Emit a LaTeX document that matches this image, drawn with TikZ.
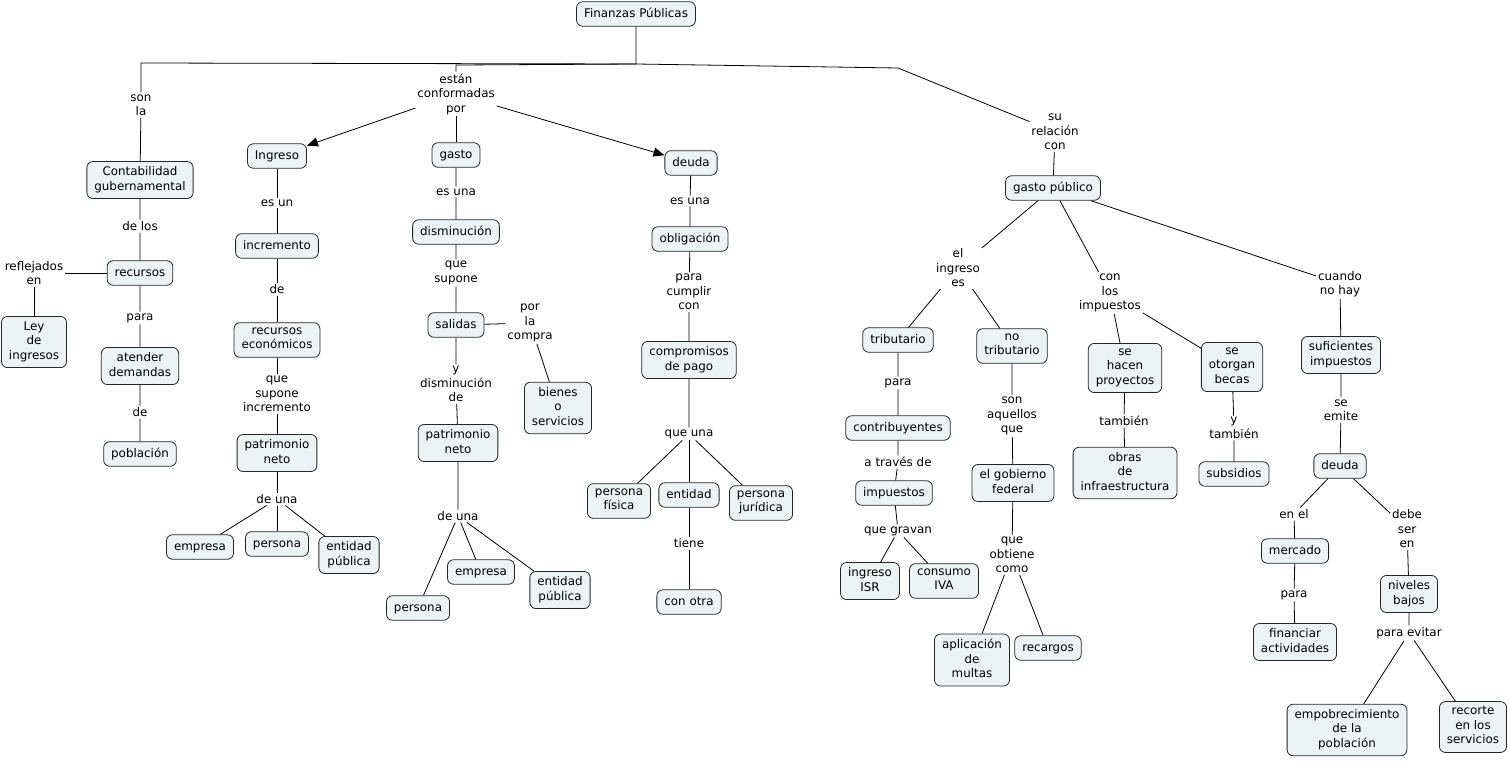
\documentclass[tikz,border=0pt]{standalone}
\usepackage{fontspec}
\setmainfont{DejaVu Sans}
\usetikzlibrary{arrows.meta}
\definecolor{cmapfill}{RGB}{237,243,245}
\newcommand\cstrut{\rule[-3.5pt]{0pt}{14.5pt}}

\begin{document}
\begin{tikzpicture}[x=1pt,y=-1pt,line width=0.8pt,
  font=\fontsize{11.9}{14.5}\selectfont,
  concept/.style={draw=black!85,fill=cmapfill,rounded corners=6pt,align=center,
    inner xsep=7.5pt,inner ysep=5pt,execute at begin node=\cstrut,execute at end node=\cstrut},
  phrase/.style={align=center,inner sep=1.5pt},
  tip/.style={-{Triangle[length=11pt,width=9pt]}}]
\useasboundingbox (0,0) rectangle (1509,761);
\node[concept] (fp) at (636,14) {Finanzas Públicas};
\node[concept] (cg) at (140,180) {Contabilidad\\gubernamental};
\node[concept] (rec) at (140,273) {recursos};
\node[concept] (ley) at (34,342) {Ley\\de\\ingresos};
\node[concept] (atd) at (140,366) {atender\\demandas};
\node[concept] (pob) at (140,454) {población};
\node[concept] (ing) at (277,156) {Ingreso};
\node[concept] (inc) at (277,246) {incremento};
\node[concept] (receco) at (277,340) {recursos\\económicos};
\node[concept] (pnA) at (277,453) {patrimonio\\neto};
\node[concept] (empA) at (200,547) {empresa};
\node[concept] (perA) at (277,544) {persona};
\node[concept] (entA) at (349,555) {entidad\\pública};
\node[concept] (gas) at (456,155) {gasto};
\node[concept] (dis) at (456,232) {disminución};
\node[concept] (sal) at (456,325) {salidas};
\node[concept] (bos) at (558,408) {bienes\\o\\servicios};
\node[concept] (pnB) at (458,443) {patrimonio\\neto};
\node[concept] (perB) at (418,608) {persona};
\node[concept] (empB) at (481,572) {empresa};
\node[concept] (entB) at (560,590) {entidad\\pública};
\node[concept] (deu) at (691,163) {deuda};
\node[concept] (obl) at (690,239) {obligación};
\node[concept] (cp) at (689,360) {compromisos\\de pago};
\node[concept] (pf) at (619,501) {persona\\física};
\node[concept] (ent) at (689,495) {entidad};
\node[concept] (pj) at (761,503) {persona\\jurídica};
\node[concept] (co) at (689,602) {con otra};
\node[concept] (gp) at (1053,188) {gasto público};
\node[concept] (trib) at (898,340) {tributario};
\node[concept] (ntrib) at (1012,346) {no\\tributario};
\node[concept] (contr) at (898,428) {contribuyentes};
\node[concept] (imp) at (894,493) {impuestos};
\node[concept] (isr) at (870,581) {ingreso\\ISR};
\node[concept] (iva) at (944,581) {consumo\\IVA};
\node[concept] (gf) at (1013,483) {el gobierno\\federal};
\node[concept] (mul) at (972,660) {aplicación\\de\\multas};
\node[concept] (rcg) at (1048,648) {recargos};
\node[concept] (shp) at (1125,368) {se\\hacen\\proyectos};
\node[concept] (sob) at (1232,367) {se\\otorgan\\becas};
\node[concept] (obr) at (1125,473) {obras\\de\\infraestructura};
\node[concept] (sub) at (1234,474) {subsidios};
\node[concept] (suf) at (1341,355) {suficientes\\impuestos};
\node[concept] (deuB) at (1340,466) {deuda};
\node[concept] (mer) at (1295,551) {mercado};
\node[concept] (fin) at (1295,642) {financiar\\actividades};
\node[concept] (niv) at (1409,594) {niveles\\bajos};
\node[concept] (emb) at (1347,730) {empobrecimiento\\de la\\población};
\node[concept] (rs) at (1473,727) {recorte\\en los\\servicios};

\node[phrase] (lSon) at (141,105) {son\\la};
\node[phrase] (lEcp) at (456,94) {están\\conformadas\\por};
\node[phrase] (lSrc) at (1055,132) {su\\relación\\con};
\node[phrase] (lDelos) at (140,226) {de los};
\node[phrase] (lRefl) at (34,273) {reflejados\\en};
\node[phrase] (lParaA) at (140,318) {para};
\node[phrase] (lDeA) at (140,412) {de};
\node[phrase] (lEsun) at (277,203) {es un};
\node[phrase] (lDeB) at (277,289) {de};
\node[phrase] (lQsi) at (277,394) {que\\supone\\incremento};
\node[phrase] (lDeunaA) at (277,499) {de una};
\node[phrase] (lEsunaA) at (456,192) {es una};
\node[phrase] (lQs) at (456,273) {que\\supone};
\node[phrase] (lPlc) at (530,323) {por\\la\\compra};
\node[phrase] (lYd) at (456,384) {y\\disminución\\de};
\node[phrase] (lDeunaB) at (458,516) {de una};
\node[phrase] (lEsunaB) at (690,201) {es una};
\node[phrase] (lPcc) at (689,292) {para\\cumplir\\con};
\node[phrase] (lQu) at (689,434) {que una};
\node[phrase] (lTiene) at (689,543) {tiene};
\node[phrase] (lEie) at (958,268) {el\\ingreso\\es};
\node[phrase] (lCli) at (1110,293) {con\\los\\impuestos};
\node[phrase] (lCnh) at (1340,284) {cuando\\no hay};
\node[phrase] (lParaB) at (898,383) {para};
\node[phrase] (lAtd) at (898,462) {a través de};
\node[phrase] (lQg) at (898,531) {que gravan};
\node[phrase] (lSaq) at (1012,416) {son\\aquellos\\que};
\node[phrase] (lQoc) at (1012,555) {que\\obtiene\\como};
\node[phrase] (lTamb) at (1124,421) {también};
\node[phrase] (lYt) at (1234,428) {y\\también};
\node[phrase] (lSe) at (1341,410) {se\\emite};
\node[phrase] (lEnel) at (1294,514) {en el};
\node[phrase] (lDse) at (1407,529) {debe\\ser\\en};
\node[phrase] (lParaC) at (1294,595) {para};
\node[phrase] (lPe) at (1409,633) {para evitar};

\coordinate (bend) at (636,64);
\coordinate (lft) at (141,63);
\coordinate (mid) at (456,65);
\coordinate (rgt) at (898,68);
\draw (fp) -- (bend) -- (lft) -- (lSon);
\draw (bend) -- (mid) -- (lEcp);
\draw (bend) -- (rgt) -- (lSrc);
\draw[tip] (lEcp) -- (ing);
\draw[tip] (lEcp) -- (deu);
\draw (lEcp) -- (gas);
\draw (lSon) -- (cg) -- (lDelos) -- (rec) -- (lParaA) -- (atd) -- (lDeA) -- (pob);
\draw (rec) -- (lRefl) -- (ley);
\draw (ing) -- (lEsun) -- (inc) -- (lDeB) -- (receco) -- (lQsi) -- (pnA) -- (lDeunaA);
\draw (lDeunaA) -- (empA);
\draw (lDeunaA) -- (perA);
\draw (lDeunaA) -- (entA);
\draw (gas) -- (lEsunaA) -- (dis) -- (lQs) -- (sal) -- (lYd) -- (pnB) -- (lDeunaB);
\draw (sal) -- (lPlc) -- (bos);
\draw (lDeunaB) -- (perB);
\draw (lDeunaB) -- (empB);
\draw (lDeunaB) -- (entB);
\draw (deu) -- (lEsunaB) -- (obl) -- (lPcc) -- (cp) -- (lQu);
\draw (lQu) -- (pf);
\draw (lQu) -- (ent);
\draw (lQu) -- (pj);
\draw (ent) -- (lTiene) -- (co);
\draw (lSrc) -- (gp);
\draw (gp) -- (lEie);
\draw (gp) -- (lCli);
\draw (gp) -- (lCnh);
\draw (lEie) -- (trib);
\draw (lEie) -- (ntrib);
\draw (trib) -- (lParaB) -- (contr) -- (lAtd) -- (imp) -- (lQg);
\draw (lQg) -- (isr);
\draw (lQg) -- (iva);
\draw (ntrib) -- (lSaq) -- (gf) -- (lQoc);
\draw (lQoc) -- (mul);
\draw (lQoc) -- (rcg);
\draw (lCli) -- (shp);
\draw (lCli) -- (sob);
\draw (shp) -- (lTamb) -- (obr);
\draw (sob) -- (lYt) -- (sub);
\draw (lCnh) -- (suf) -- (lSe) -- (deuB);
\draw (deuB) -- (lEnel) -- (mer) -- (lParaC) -- (fin);
\draw (deuB) -- (lDse) -- (niv) -- (lPe);
\draw (lPe) -- (emb);
\draw (lPe) -- (rs);
\end{tikzpicture}
\end{document}
